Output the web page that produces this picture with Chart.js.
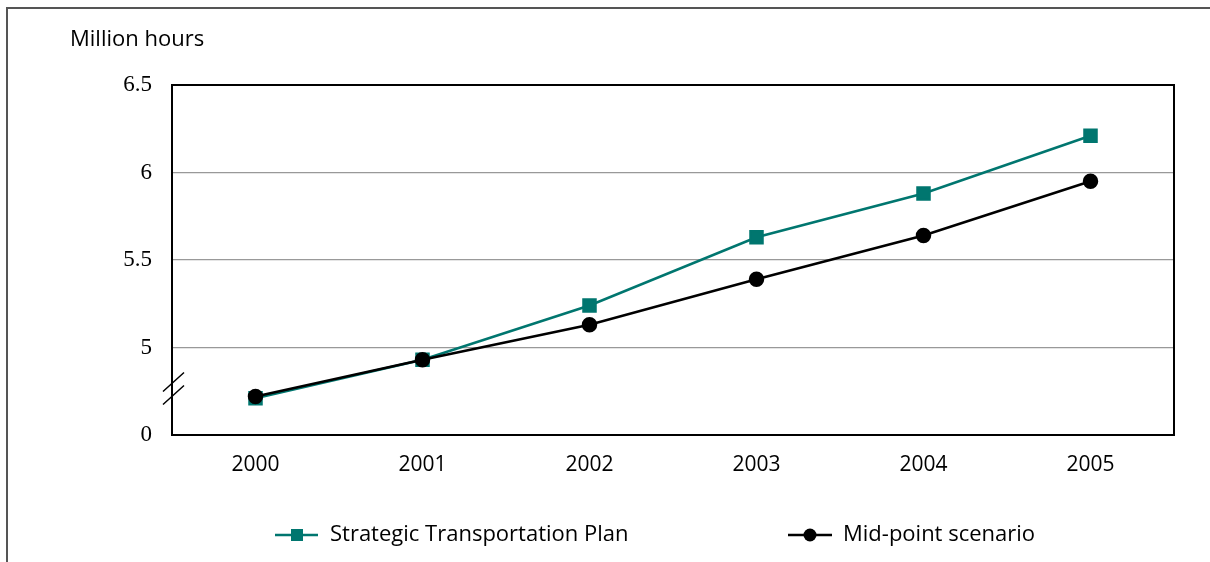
<!DOCTYPE html>
<html lang="en">
  <head>
    <meta charset="UTF-8" />
    <script src="https://cdn.jsdelivr.net/npm/chart.js@4/dist/chart.umd.min.js"></script>
    <style>
      body {
        margin: 0;
        background: white;
      }
      #chart {
        display: block;
      }
    </style>
    <title>Million hours</title>
  </head>
  <body>
    <canvas id="chart" width="1210" height="562"></canvas>
    <script>
      const years = ["2000", "2001", "2002", "2003", "2004", "2005"];
      const stpValues = [4.71, 4.93, 5.24, 5.63, 5.88, 6.21];
      const midValues = [4.72, 4.93, 5.13, 5.39, 5.64, 5.95];
      const seriesNames = ["Strategic Transportation Plan", "Mid-point scenario"];
      const yTicks = [4.5, 5, 5.5, 6, 6.5];

      const teal = "#00766f";
      const sans = "'Open Sans', Lato, sans-serif";

      const decorations = {
        id: "decorations",
        afterDraw: (chart) => {
          const ctx = chart.ctx;
          const area = chart.chartArea;
          const y = chart.scales.y;
          ctx.save();

          // outer frame
          ctx.strokeStyle = "#555";
          ctx.lineWidth = 2;
          ctx.beginPath();
          ctx.moveTo(7, 562);
          ctx.lineTo(7, 8);
          ctx.lineTo(1210, 8);
          ctx.stroke();

          // top + right of plot box
          ctx.strokeStyle = "#000";
          ctx.lineWidth = 2;
          ctx.beginPath();
          ctx.moveTo(area.left, area.top);
          ctx.lineTo(area.right, area.top);
          ctx.lineTo(area.right, area.bottom);
          ctx.stroke();

          // axis break
          const by = y.getPixelForValue(4.8);
          ctx.lineWidth = 1.5;
          ctx.beginPath();
          ctx.moveTo(area.left - 9, by + 9);
          ctx.lineTo(area.left + 12, by - 10);
          ctx.moveTo(area.left - 9, by + 22);
          ctx.lineTo(area.left + 12, by + 3);
          ctx.stroke();

          // unit label
          ctx.fillStyle = "#000";
          ctx.font = "22px " + sans;
          ctx.textBaseline = "alphabetic";
          ctx.fillText("Million hours", 70, 46);

          // legend
          const ly = 535;
          ctx.font = "22px " + sans;
          ctx.textBaseline = "middle";

          ctx.strokeStyle = teal;
          ctx.lineWidth = 2.5;
          ctx.beginPath();
          ctx.moveTo(275, ly);
          ctx.lineTo(318, ly);
          ctx.stroke();
          ctx.fillStyle = teal;
          ctx.fillRect(297 - 6, ly - 6, 12, 12);
          ctx.fillStyle = "#000";
          ctx.fillText(seriesNames[0], 330, ly);

          ctx.strokeStyle = "#000";
          ctx.beginPath();
          ctx.moveTo(788, ly);
          ctx.lineTo(832, ly);
          ctx.stroke();
          ctx.beginPath();
          ctx.arc(810, ly, 6.5, 0, Math.PI * 2);
          ctx.fill();
          ctx.fillText(seriesNames[1], 843, ly);

          ctx.restore();
        },
      };

      const config = {
        type: "line",
        data: {
          labels: years,
          datasets: [
            {
              label: seriesNames[1],
              data: midValues,
              borderColor: "#000",
              backgroundColor: "#000",
              borderWidth: 2.5,
              pointStyle: "circle",
              pointRadius: 6.5,
              pointHoverRadius: 6.5,
            },
            {
              label: seriesNames[0],
              data: stpValues,
              borderColor: teal,
              backgroundColor: teal,
              borderWidth: 2.5,
              pointStyle: "rect",
              pointRadius: 8.5,
              pointHoverRadius: 8.5,
            },
          ],
        },
        options: {
          responsive: false,
          animation: false,
          layout: { padding: { left: 0, top: 85, right: 36, bottom: 0 } },
          plugins: {
            legend: { display: false },
            tooltip: { enabled: false },
          },
          scales: {
            x: {
              offset: true,
              grid: { display: false, drawTicks: false },
              border: { display: true, color: "#000", width: 2 },
              ticks: {
                padding: 17,
                color: "#000",
                font: { family: sans, size: 21 },
              },
              afterFit: (scale) => {
                scale.height = 127;
              },
            },
            y: {
              min: 4.5,
              max: 6.5,
              afterBuildTicks: (scale) => {
                scale.ticks = yTicks.map((v) => ({ value: v }));
              },
              grid: {
                drawTicks: false,
                color: (c) =>
                  c.tick && (c.tick.value === 4.5 || c.tick.value === 6.5)
                    ? "rgba(0,0,0,0)"
                    : "#999",
                lineWidth: 1.2,
              },
              border: { display: true, color: "#000", width: 2 },
              ticks: {
                padding: 20,
                color: "#000",
                font: { family: "'Liberation Serif', serif", size: 23 },
                callback: (v) => (v === 4.5 ? "0" : String(v)),
              },
              afterFit: (scale) => {
                scale.width = 172;
              },
            },
          },
        },
        plugins: [decorations],
      };

      const chart = new Chart(document.getElementById("chart"), config);
    </script>
  </body>
</html>
